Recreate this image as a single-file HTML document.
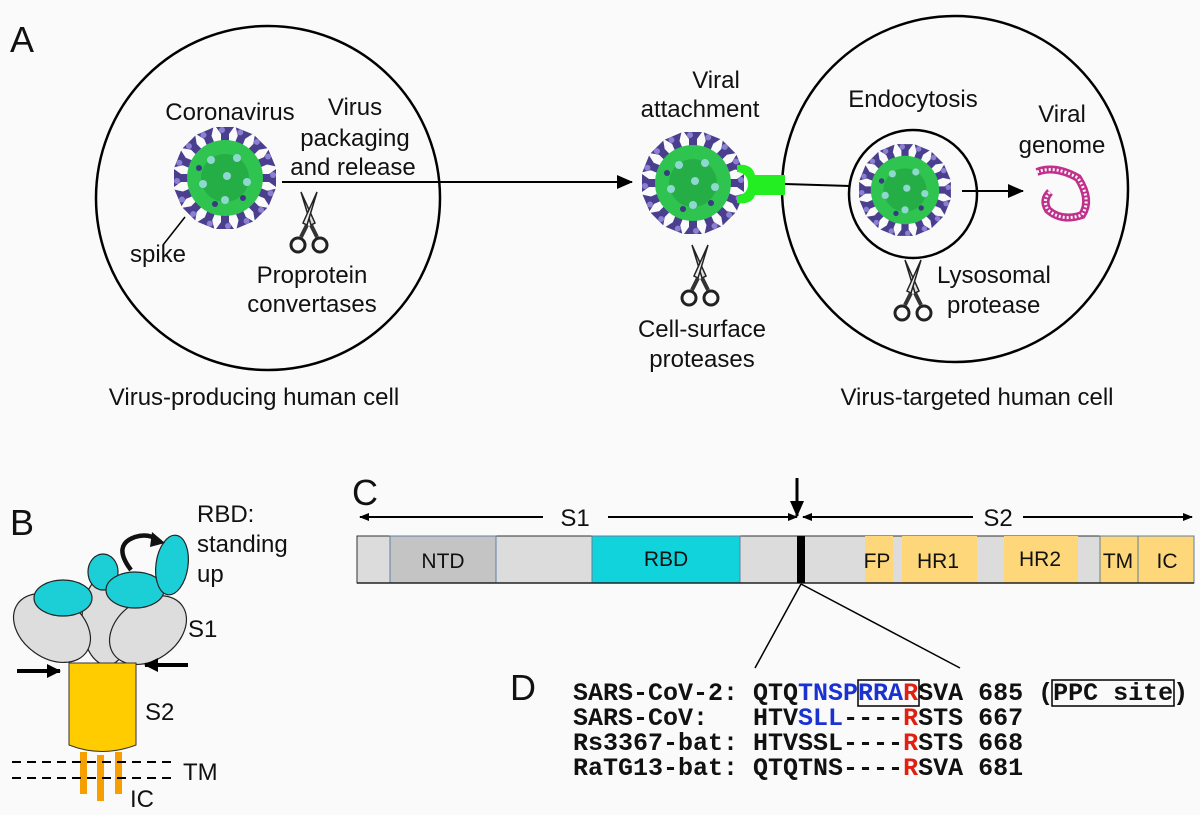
<!DOCTYPE html>
<html><head><meta charset="utf-8"><style>
html,body{margin:0;padding:0;background:#fafafa;}
svg{display:block;}
.t{font-family:"Liberation Sans",sans-serif;font-size:24px;fill:#111;}
.L{font-family:"Liberation Sans",sans-serif;font-size:36px;fill:#111;}
.m{font-family:"Liberation Mono",monospace;font-size:25px;font-weight:bold;fill:#111;white-space:pre;}
.b{fill:#1a33d0}.r{fill:#e02010}
</style></head><body>
<svg width="1200" height="815" viewBox="0 0 1200 815" xmlns="http://www.w3.org/2000/svg" xml:space="preserve">
<defs>
<marker id="ah" markerWidth="14" markerHeight="14" refX="13" refY="7" orient="auto" markerUnits="userSpaceOnUse">
<path d="M0,0 L14,7 L0,14 Z" fill="#000"/></marker>
<marker id="ah2" markerWidth="16" markerHeight="14" refX="15" refY="7" orient="auto" markerUnits="userSpaceOnUse">
<path d="M0,0 L16,7 L0,14 Z" fill="#000"/></marker>
<marker id="as" markerWidth="10" markerHeight="8" refX="9" refY="4" orient="auto-start-reverse" markerUnits="userSpaceOnUse">
<path d="M0,0 L10,4 L0,8 Z" fill="#000"/></marker>
<g id="sp"><path d="M-4,-34 L-4,-44 L-9,-51 L9,-51 L4,-44 L4,-34Z" fill="#4a3f8f"/><circle cx="-3" cy="-48" r="3" fill="#8a7fd0"/></g>
<g id="vir">
<use href="#sp" transform="rotate(0)"/><use href="#sp" transform="rotate(22)"/><use href="#sp" transform="rotate(45)"/><use href="#sp" transform="rotate(67)"/>
<use href="#sp" transform="rotate(90)"/><use href="#sp" transform="rotate(112)"/><use href="#sp" transform="rotate(135)"/><use href="#sp" transform="rotate(157)"/>
<use href="#sp" transform="rotate(180)"/><use href="#sp" transform="rotate(202)"/><use href="#sp" transform="rotate(225)"/><use href="#sp" transform="rotate(247)"/>
<use href="#sp" transform="rotate(270)"/><use href="#sp" transform="rotate(292)"/><use href="#sp" transform="rotate(315)"/><use href="#sp" transform="rotate(337)"/>
<circle r="38" fill="#2fc44f"/><circle r="24" fill="#1fa040" opacity="0.6"/>
<circle cx="-14" cy="-18" r="4" fill="#8fd8d0"/><circle cx="12" cy="-20" r="4" fill="#8fd8d0"/><circle cx="22" cy="4" r="4" fill="#8fd8d0"/>
<circle cx="-22" cy="6" r="4" fill="#8fd8d0"/><circle cx="0" cy="22" r="4" fill="#8fd8d0"/><circle cx="2" cy="-2" r="4" fill="#8fd8d0"/>
<circle cx="-10" cy="26" r="3" fill="#3a3a80"/><circle cx="18" cy="20" r="3" fill="#3a3a80"/><circle cx="-26" cy="-10" r="3" fill="#3a3a80"/>
</g>
<g id="sc">
<path d="M-8,-33 L2,0 L6,-2 Z" fill="#ddd" stroke="#222" stroke-width="1.5"/>
<path d="M8,-33 L-2,0 L-6,-2 Z" fill="#eee" stroke="#222" stroke-width="1.5"/>
<path d="M-2,0 L-8,12 M2,0 L8,12" stroke="#333" stroke-width="4"/>
<circle cx="-11" cy="20" r="7" fill="none" stroke="#222" stroke-width="3"/>
<circle cx="11" cy="20" r="7" fill="none" stroke="#222" stroke-width="3"/>
</g>
</defs>

<!-- Panel A -->
<text class="L" x="10" y="52">A</text>
<circle cx="268" cy="198" r="172" fill="none" stroke="#000" stroke-width="2.5"/>
<circle cx="955" cy="189" r="173" fill="none" stroke="#000" stroke-width="2.5"/>
<circle cx="913" cy="194" r="64" fill="none" stroke="#000" stroke-width="2.5"/>
<line x1="282" y1="182" x2="632" y2="182" stroke="#000" stroke-width="2" marker-end="url(#ah2)"/>
<line x1="785" y1="184" x2="850" y2="186" stroke="#000" stroke-width="2"/>
<line x1="962" y1="191" x2="1023" y2="191" stroke="#000" stroke-width="2" marker-end="url(#ah2)"/>
<use href="#vir" transform="translate(225,178)"/>
<use href="#vir" transform="translate(693,183)"/>
<use href="#vir" transform="translate(905,190) scale(0.9)"/>
<path d="M737,165 Q752,163 755,175 L785,175 L785,195 L755,195 Q752,205 737,203 L737,196 Q748,194 748,184 Q748,173 737,172 Z" fill="#22ee22"/>
<line x1="185" y1="217" x2="163" y2="245" stroke="#000" stroke-width="1.5"/>
<use href="#sc" transform="translate(309,225)"/>
<use href="#sc" transform="translate(700,278)"/>
<use href="#sc" transform="translate(913,293)"/>
<path d="M1037,172 Q1055,165 1078,178 Q1092,200 1082,215 Q1062,222 1048,210 Q1042,200 1050,192" fill="none" stroke="#c0308c" stroke-width="8"/>
<path d="M1037,172 Q1055,165 1078,178 Q1092,200 1082,215 Q1062,222 1048,210 Q1042,200 1050,192" fill="none" stroke="#fafafa" stroke-width="3" stroke-dasharray="2 2"/>
<text class="t" x="230" y="120" text-anchor="middle">Coronavirus</text>
<text class="t" x="355" y="115" text-anchor="middle">Virus</text>
<text class="t" x="355" y="146" text-anchor="middle">packaging</text>
<text class="t" x="353" y="175" text-anchor="middle">and release</text>
<text class="t" x="130" y="262">spike</text>
<text class="t" x="312" y="283" text-anchor="middle">Proprotein</text>
<text class="t" x="312" y="312" text-anchor="middle">convertases</text>
<text class="t" x="254" y="405" text-anchor="middle">Virus-producing human cell</text>
<text class="t" x="716" y="88" text-anchor="middle">Viral</text>
<text class="t" x="700" y="117" text-anchor="middle">attachment</text>
<text class="t" x="702" y="337" text-anchor="middle">Cell-surface</text>
<text class="t" x="702" y="367" text-anchor="middle">proteases</text>
<text class="t" x="913" y="107" text-anchor="middle">Endocytosis</text>
<text class="t" x="1062" y="122" text-anchor="middle">Viral</text>
<text class="t" x="1062" y="153" text-anchor="middle">genome</text>
<text class="t" x="937" y="283">Lysosomal</text>
<text class="t" x="947" y="313">protease</text>
<text class="t" x="977" y="405" text-anchor="middle">Virus-targeted human cell</text>

<!-- Panel B -->
<text class="L" x="10" y="535">B</text>
<ellipse cx="107" cy="620" rx="25" ry="45" fill="#ddd" stroke="#222" stroke-width="1.2"/>
<ellipse cx="52" cy="628" rx="42" ry="30" transform="rotate(35 52 628)" fill="#ddd" stroke="#222" stroke-width="1.2"/>
<ellipse cx="148" cy="630" rx="42" ry="30" transform="rotate(-35 148 630)" fill="#ddd" stroke="#222" stroke-width="1.2"/>
<path d="M69,663 L136,663 L136,745 Q102,758 69,745 Z" fill="#ffcc00" stroke="#333" stroke-width="1"/>
<rect x="80" y="752" width="7" height="42" fill="#f5a000"/>
<rect x="97" y="755" width="7" height="46" fill="#f5a000"/>
<rect x="115" y="752" width="7" height="42" fill="#f5a000"/>
<line x1="12" y1="762" x2="173" y2="762" stroke="#000" stroke-width="2" stroke-dasharray="9 6"/>
<line x1="12" y1="778" x2="173" y2="778" stroke="#000" stroke-width="2" stroke-dasharray="9 6"/>
<ellipse cx="63" cy="598" rx="29" ry="18" fill="#1ccfd6" stroke="#222" stroke-width="1.2"/>
<ellipse cx="103" cy="572" rx="15" ry="18" fill="#1ccfd6" stroke="#222" stroke-width="1.2"/>
<ellipse cx="135" cy="590" rx="29" ry="18" fill="#1ccfd6" stroke="#222" stroke-width="1.2"/>
<ellipse cx="172" cy="565" rx="16" ry="30" transform="rotate(8 172 565)" fill="#1ccfd6" stroke="#222" stroke-width="1.2"/>
<path d="M131,570 Q112,545 135,537 Q148,533 158,540" fill="none" stroke="#111" stroke-width="4.5"/>
<path d="M152,532 L165,543 L150,547 Z" fill="#111"/>
<line x1="17" y1="671" x2="60" y2="671" stroke="#000" stroke-width="4" marker-end="url(#ah)"/>
<line x1="188" y1="665" x2="145" y2="665" stroke="#000" stroke-width="4" marker-end="url(#ah)"/>
<text class="t" x="197" y="522">RBD:</text>
<text class="t" x="197" y="552">standing</text>
<text class="t" x="197" y="582">up</text>
<text class="t" x="188" y="637">S1</text>
<text class="t" x="145" y="720">S2</text>
<text class="t" x="183" y="780">TM</text>
<text class="t" x="130" y="807">IC</text>

<!-- Panel C -->
<text class="L" x="352" y="505">C</text>
<line x1="360" y1="517" x2="543" y2="517" stroke="#000" stroke-width="2" marker-start="url(#as)"/>
<line x1="608" y1="517" x2="797" y2="517" stroke="#000" stroke-width="2" marker-end="url(#as)"/>
<line x1="803" y1="517" x2="973" y2="517" stroke="#000" stroke-width="2" marker-start="url(#as)"/>
<line x1="1023" y1="517" x2="1192" y2="517" stroke="#000" stroke-width="2" marker-end="url(#as)"/>
<text class="t" x="575" y="526" text-anchor="middle">S1</text>
<text class="t" x="998" y="526" text-anchor="middle">S2</text>
<line x1="797" y1="478" x2="797" y2="516" stroke="#000" stroke-width="3" marker-end="url(#ah2)"/>
<rect x="357" y="536" width="837" height="47" fill="#dcdcdc" stroke="#333" stroke-width="1"/>
<rect x="390" y="536" width="106" height="47" fill="#c4c4c4" stroke="#6080a0" stroke-width="1"/>
<rect x="592" y="536" width="148" height="47" fill="#11d3dc" stroke="#6080a0" stroke-width="1"/>
<rect x="865" y="536" width="28" height="47" fill="#fdd77a"/>
<rect x="902" y="536" width="75" height="47" fill="#fdd77a"/>
<rect x="1004" y="536" width="74" height="47" fill="#fdd77a"/>
<rect x="1100" y="536" width="94" height="47" fill="#fdd77a" stroke="#6080a0" stroke-width="1"/>
<line x1="1138" y1="536" x2="1138" y2="583" stroke="#6080a0"/>
<line x1="357" y1="583" x2="1194" y2="583" stroke="#222" stroke-width="1.5"/>
<rect x="797" y="536" width="8" height="47" fill="#000"/>
<g font-family="Liberation Sans, sans-serif" font-size="21" fill="#111" text-anchor="middle">
<text x="443" y="568">NTD</text><text x="666" y="566">RBD</text><text x="877" y="568">FP</text>
<text x="938" y="568">HR1</text><text x="1040" y="566">HR2</text><text x="1118" y="568">TM</text><text x="1167" y="568">IC</text></g>

<!-- Panel D -->
<line x1="801" y1="584" x2="755" y2="668" stroke="#000" stroke-width="1.5"/>
<line x1="801" y1="584" x2="960" y2="668" stroke="#000" stroke-width="1.5"/>
<text class="L" x="510" y="700">D</text>
<text class="m" x="573" y="700">SARS-CoV-2: QTQ<tspan class="b">TNSPRRA</tspan><tspan class="r">R</tspan>SVA 685 (PPC site)</text>
<text class="m" x="573" y="725">SARS-CoV:   HTV<tspan class="b">SLL</tspan>----<tspan class="r">R</tspan>STS 667</text>
<text class="m" x="573" y="750">Rs3367-bat: HTVSSL----<tspan class="r">R</tspan>STS 668</text>
<text class="m" x="573" y="775">RaTG13-bat: QTQTNS----<tspan class="r">R</tspan>SVA 681</text>
<rect x="858" y="680" width="61" height="26" fill="none" stroke="#000" stroke-width="1.5"/>
<rect x="1052" y="680" width="122" height="26" fill="none" stroke="#000" stroke-width="1.5"/>
</svg>
</body></html>
